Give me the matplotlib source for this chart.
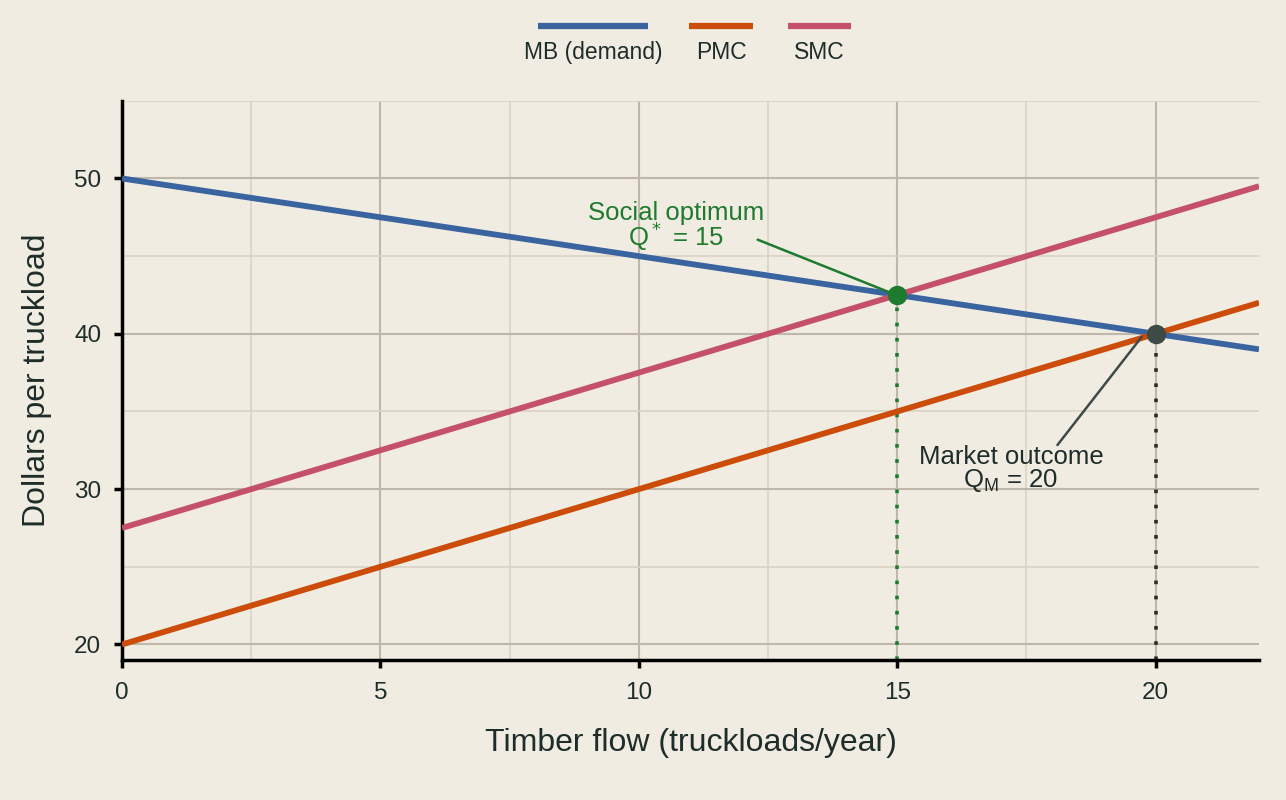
import numpy as np
import matplotlib
matplotlib.use("Agg")
import matplotlib.pyplot as plt
from matplotlib.lines import Line2D
from matplotlib.ticker import MultipleLocator

plt.rcParams['font.family'] = ['Liberation Sans', 'DejaVu Sans']

# Data
q = np.array([0, 22])
mb_intercept, mb_slope = 50.0, -0.5
pmc_intercept, pmc_slope = 20.0, 1.0
smc_intercept, smc_slope = 27.5, 1.0
series_names = ["MB (demand)", "PMC", "SMC"]
q_social, p_social = 15, 42.5
q_market, p_market = 20, 40

BG = "#f0ece1"
TXT = "#1f2d2a"
C_MB = "#3a64a0"
C_PMC = "#cc4c0a"
C_SMC = "#c4506a"
C_GREEN = "#1e7a2e"
C_DARK = "#3d4a45"

fig = plt.figure(figsize=(12.86, 8), dpi=100, facecolor=BG)
ax = fig.add_axes([0.0949, 0.175, 0.979 - 0.0949, 0.874 - 0.175])
ax.set_facecolor(BG)

ax.set_xlim(0, 22)
ax.set_ylim(19, 55)
ax.xaxis.set_major_locator(MultipleLocator(5))
ax.xaxis.set_minor_locator(MultipleLocator(2.5))
ax.yaxis.set_major_locator(MultipleLocator(10))
ax.yaxis.set_minor_locator(MultipleLocator(5))
ax.grid(which='major', color="#bfb7a9", lw=1.5, zorder=0)
ax.grid(which='minor', color="#d9d3c5", lw=1.2, zorder=0)
ax.set_axisbelow(True)

for s in ['top', 'right']:
    ax.spines[s].set_visible(False)
for s in ['left', 'bottom']:
    ax.spines[s].set_linewidth(2.5)
    ax.spines[s].set_color('black')
ax.tick_params(which='major', length=6, width=2.5, color='black', labelsize=17.5, labelcolor=TXT, pad=9)
ax.tick_params(axis='x', which='major', pad=10)
ax.tick_params(which='minor', length=0)

lw = 4.2
ax.plot(q, mb_intercept + mb_slope * q, color=C_MB, lw=lw, zorder=3, solid_capstyle='butt')
ax.plot(q, smc_intercept + smc_slope * q, color=C_SMC, lw=lw, zorder=3, solid_capstyle='butt')
ax.plot(q, pmc_intercept + pmc_slope * q, color=C_PMC, lw=lw, zorder=3, solid_capstyle='butt')

ax.plot([q_social, q_social], [19, p_social], color=C_GREEN, lw=2.6, ls=(0, (1, 3.2)), zorder=2)
ax.plot([q_market, q_market], [19, p_market], color="#2b2b2b", lw=2.6, ls=(0, (1, 3.2)), zorder=2)

ax.plot(q_social, p_social, 'o', color=C_GREEN, ms=13, zorder=5)
ax.plot(q_market, p_market, 'o', color=C_DARK, ms=13, zorder=5)

# annotations
ax.text(10.72, 46.85, "Social optimum\nQ$^*$ = 15", ha='center', va='center', fontsize=18.5,
        color=C_GREEN, linespacing=0.8, zorder=6)
ax.annotate("", xy=(14.82, 42.71), xytext=(12.30, 46.06),
            arrowprops=dict(arrowstyle='-', color=C_GREEN, lw=1.8, shrinkA=0, shrinkB=0), zorder=6)
ax.text(17.2, 31.27, "Market outcome\nQ$_\\mathregular{M}$ = 20", ha='center', va='center', fontsize=18.5,
        color=TXT, linespacing=0.92, zorder=6)
ax.annotate("", xy=(19.73, 39.8), xytext=(18.10, 32.84),
            arrowprops=dict(arrowstyle='-', color=C_DARK, lw=1.8, shrinkA=0, shrinkB=0), zorder=6)

ax.set_xlabel("Timber flow (truckloads/year)", fontsize=23, color=TXT, labelpad=17)
ax.set_ylabel("Dollars per truckload", fontsize=23, color=TXT, labelpad=16)

# Legend (handles above labels)
W, H = 1286, 800
legend_items = [(series_names[0], C_MB, 538, 648), (series_names[1], C_PMC, 689, 753), (series_names[2], C_SMC, 788, 851)]
for name, col, x0, x1 in legend_items:
    fig.add_artist(Line2D([x0 / W, x1 / W], [1 - 26 / H, 1 - 26 / H], color=col, lw=4.5,
                          transform=fig.transFigure, solid_capstyle='butt'))
    fig.text((x0 + x1) / 2 / W, 1 - 59 / H, name, ha='center', va='baseline', fontsize=16.5, color=TXT)

fig.savefig("out.png", dpi=100, facecolor=BG)
